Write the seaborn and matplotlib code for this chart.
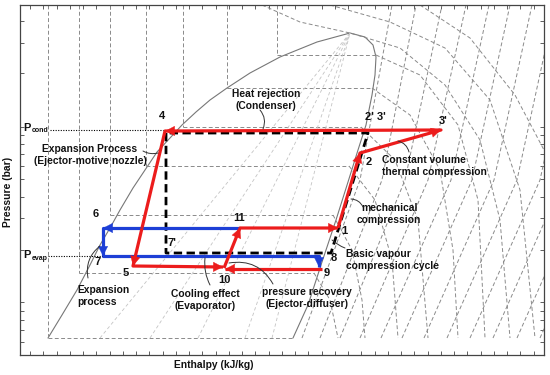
import numpy as np
import matplotlib.pyplot as plt
import seaborn as sns

# chart units: enthalpy to the right, pressure rows counted from the top of the frame
# --- saturation dome ---
dome_h = [48, 62, 77, 90, 100, 110, 120, 133, 145, 157, 170, 182, 196, 210, 227, 250, 280, 317, 350,
          365, 373, 376, 375, 372, 366, 358, 348, 336, 322, 308, 293]
dome_p = [338, 315, 290, 265, 245, 228, 210, 188, 170, 152, 138, 125, 112, 100, 88, 73, 57, 42, 33,
          37, 45, 57, 75, 95, 125, 150, 182, 220, 262, 305, 338]

# isotherms: liquid branch (vertical), two-phase branch (horizontal), vapour branch
iso_level = [338, 273, 215, 166, 127, 88, 55]
iso_liq_h = [48, 79, 110, 146, 183, 227, 277]
iso_vap_h = [[293, 293], [314, 330, 338], [333, 352, 362, 365], [349, 375, 392, 398],
             [361, 395, 418, 428], [372, 410, 440, 453, 458], [376, 420, 458, 478, 485]]
iso_vap_p = [[338, 338], [273, 300, 338], [215, 250, 300, 338], [166, 200, 260, 338],
             [127, 160, 220, 338], [88, 115, 170, 250, 338], [55, 75, 125, 200, 338]]
super_h = [[262, 300, 350, 400, 445, 480, 500, 510], [330, 390, 445, 490, 520, 535],
           [420, 470, 515, 544]]
super_p = [[5, 22, 33, 48, 85, 140, 220, 338], [5, 22, 48, 100, 190, 338], [5, 38, 95, 150]]

# isentropes (bottom, middle, top)
isen_h = [[302, 360, 392], [320, 382, 416], [340, 405, 442], [360, 428, 466], [381, 451, 489],
          [402, 472, 510], [424, 494, 532], [447, 517, 555], [470, 540, 578], [493, 563, 601],
          [517, 587, 625], [540, 610, 648]]
isen_p = [[338, 180, 5]] * 12

# vapour quality lines inside the dome, converging to the critical point
qual_h0 = [100, 150, 198, 245, 272]
crit_h, crit_p = 350, 33

# --- cycles ---
red_main_h = [338, 360, 441, 165, 133, 223]   # 1 -> 2 -> 3' -> 4 -> 5 -> 10
red_main_p = [228, 153, 130, 131, 266, 267]
red_diff_h = [322, 225]                       # 9 -> 10
red_diff_p = [269, 269]
red_ej_h = [224, 240, 338]                    # 10 -> 11 -> 1
red_ej_p = [268, 228, 228]
blue_h = [240, 103, 103, 319, 319]            # 11 -> 6 -> 7 -> 8 -> 9
blue_p = [228, 228, 256, 256, 267]
blue_heads = [True, True, False, True]
basic_h = [166, 166, 331, 368, 166]           # 4 -> 7' -> 8 -> 2'3' -> 4
basic_p = [133, 253, 253, 133, 133]

x_ticks = list(np.arange(30, 544, 13.25))
y_ticks = [21, 43, 73, 127, 135, 144, 154, 166, 179, 197, 218, 250, 302, 311, 320, 330, 342]

RED, BLUE, GREY = '#ec1c1c', '#1d3fd6', '#8a8a8a'

sns.set_theme(style='white')
plt.rcParams['font.family'] = ['Liberation Sans', 'DejaVu Sans']

fig = plt.figure(figsize=(5.5, 3.75), dpi=100)
ax = fig.add_axes([20 / 550, 20 / 375, 524 / 550, 350 / 375])
ax.set_xlim(20, 544)
ax.set_ylim(355, 5)

dash = dict(color=GREY, lw=0.7, dashes=(4, 2.5))
# dome
sns.lineplot(x=dome_h, y=dome_p, sort=False, estimator=None, color='#777777', lw=0.8, ax=ax)
# isotherms
for lvl, hl, vh, vp in zip(iso_level, iso_liq_h, iso_vap_h, iso_vap_p):
    ax.plot([hl, hl], [5, lvl], **dash)
    ax.plot([hl, vh[0]], [lvl, lvl], **dash)
    ax.plot(vh, vp, **dash)
for sh, sp in zip(super_h, super_p):
    ax.plot(sh, sp, **dash)
for ih, ip in zip(isen_h, isen_p):
    ax.plot(ih, ip, **dash)
for q in qual_h0:
    ax.plot([q, crit_h], [338, crit_p], color='#c4c4c4', lw=0.6, dashes=(4, 3))


def path(h, p, color, heads=None, lw=2.3):
    sns.lineplot(x=h, y=p, sort=False, estimator=None, color=color, lw=lw, ax=ax)
    ax.lines[-1].set_solid_capstyle('butt')
    n = len(h) - 1
    heads = heads if heads is not None else [True] * n
    for i in range(n):
        if heads[i]:
            ax.annotate('', xy=(h[i + 1], p[i + 1]), xytext=(h[i], p[i]),
                        arrowprops=dict(arrowstyle='-|>,head_length=0.55,head_width=0.28',
                                        color=color, lw=0.3, shrinkA=0, shrinkB=0,
                                        mutation_scale=12))


sns.lineplot(x=basic_h, y=basic_p, sort=False, estimator=None, color='black', lw=2.0, ax=ax)
ax.lines[-1].set_dashes((3, 1.6))
path(blue_h, blue_p, BLUE, blue_heads)
path(red_main_h, red_main_p, RED)
path(red_diff_h, red_diff_p, RED)
path(red_ej_h, red_ej_p, RED)

# reference pressure levels
ax.plot([50, 163], [130, 130], color='black', lw=0.8, ls=(0, (1, 1.3)))
ax.plot([48, 102], [256, 256], color='black', lw=0.8, ls=(0, (1, 1.3)))

fs = 7.4
tk = dict(fontsize=fs, fontweight='bold', color='#111111', ha='center', va='center')
num = dict(tk, fontsize=8)
ax.text(27, 128, 'P', **num)
ax.text(40, 131, 'cond', fontsize=5, fontweight='bold', color='#111111', ha='center', va='center')
ax.text(27, 255, 'P', **num)
ax.text(40, 258, 'evap', fontsize=5, fontweight='bold', color='#111111', ha='center', va='center')

for s, x, y in [('4', 162, 116), ("2' 3'", 375, 117), ("3'", 443, 121), ('2', 369, 162),
                ('1', 344, 231), ('8', 334, 258), ('9', 327, 273), ('11', 239, 218),
                ('10', 224, 280), ('5', 126, 273), ("7'", 172, 243), ('6', 96, 214),
                ('7', 98, 262)]:
    ax.text(x, y, s, **num)

ax.text(266, 100, 'Heat rejection\n(Condenser)', linespacing=1.3, **tk)
ax.text(90, 155, 'Expansion Process\n(Ejector-motive nozzle)', linespacing=1.3, **tk)
ax.text(205, 300, 'Cooling effect\n(Evaporator)', linespacing=1.3, **tk)
ax.text(307, 298, 'pressure recovery\n(Ejector-diffuser)', linespacing=1.3, **tk)
ax.text(389, 214, 'mechanical\ncompression', linespacing=1.25, **tk)
left = dict(tk, ha='left')
ax.text(382, 166, 'Constant volume\nthermal compression', linespacing=1.35, **left)
ax.text(346, 260, 'Basic vapour\ncompression cycle', linespacing=1.35, **left)
ax.text(77, 296, 'Expansion\nprocess', linespacing=1.3, **left)

# leader lines
for a, b, r in [((260, 110), (263, 129), -0.3), ((143, 151), (158, 153), 0.2),
                ((398, 141), (409, 152), -0.3), ((351, 199), (363, 207), -0.3),
                ((332, 240), (345, 248), 0.1), ((229, 263), (273, 284), -0.35),
                ((205, 258), (210, 285), 0.15), ((100, 246), (88, 278), 0.3)]:
    ax.annotate('', xy=b, xytext=a,
                arrowprops=dict(arrowstyle='-', color='#333333', lw=0.7,
                                connectionstyle=f'arc3,rad={r}', shrinkA=0, shrinkB=0))

ax.set_xticks(x_ticks)
ax.set_yticks(y_ticks)
ax.tick_params(direction='in', length=3, width=0.6, colors='#444444', top=True, right=True,
               bottom=True, left=True, labelbottom=False, labelleft=False)
for sp in ax.spines.values():
    sp.set_color('#444444')
    sp.set_linewidth(0.9)
ax.set_xlabel('')
ax.set_ylabel('')
fig.text(214 / 550, 1 - 365 / 375, 'Enthalpy (kJ/kg)', fontsize=fs, fontweight='bold',
         color='#111111', ha='center', va='center')
fig.text(8 / 550, 1 - 192 / 375, 'Pressure (bar)', fontsize=fs, fontweight='bold',
         color='#111111', ha='center', va='center', rotation=90)

fig.savefig('out.png', dpi=100)
